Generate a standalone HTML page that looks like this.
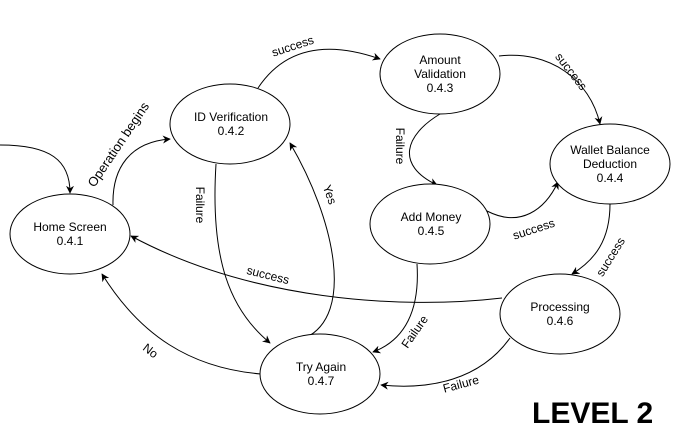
<!DOCTYPE html>
<html><head><meta charset="utf-8"><style>
html,body{margin:0;padding:0;background:#fff;}
svg{display:block;}
text{font-family:"Liberation Sans",sans-serif;font-size:12px;fill:#000;}
</style></head><body>
<svg width="696" height="432" viewBox="0 0 696 432" xmlns="http://www.w3.org/2000/svg">
<defs><marker id="a" viewBox="0 0 10 10" refX="9" refY="5" markerWidth="8" markerHeight="8" orient="auto" markerUnits="userSpaceOnUse"><path d="M0,0 L10,5 L0,10 L3,5 z" fill="#000"/></marker></defs>
<g fill="none" stroke="#000" stroke-width="1" marker-end="url(#a)">
<path d="M0,145 C50,145 70,160 70,193"/>
<path d="M113,205 C112,168 130,142 170,139"/>
<path d="M258,88 C290,40 340,45 380,59"/>
<path d="M499,56 C550,50 590,80 600,124"/>
<path d="M440,114 C405,135 395,165 437,185"/>
<path d="M487,211 C520,228 545,210 558,182"/>
<path d="M610,204 C610,240 595,260 572,274"/>
<path d="M502,298 C400,310 250,300 131,236"/>
<path d="M417,264 C420,310 405,340 373,352"/>
<path d="M510,338 C480,380 430,390 381,385"/>
<path d="M216,164 C210,260 230,310 270,343"/>
<path d="M305,338 C355,315 335,220 290,143"/>
<path d="M261,374 C190,368 140,335 102,274"/>
</g>
<g fill="#fff" stroke="#000">
<ellipse cx="70" cy="234" rx="60" ry="40"/>
<ellipse cx="230" cy="124" rx="60" ry="40"/>
<ellipse cx="440" cy="74" rx="60" ry="40"/>
<ellipse cx="610" cy="164" rx="60" ry="40"/>
<ellipse cx="430" cy="224" rx="60" ry="40"/>
<ellipse cx="560" cy="314" rx="60" ry="40"/>
<ellipse cx="320" cy="374" rx="60" ry="40"/>
</g>
<g text-anchor="middle">
<text x="70" y="231">Home Screen</text><text x="70" y="245">0.4.1</text>
<text x="231" y="121">ID Verification</text><text x="231" y="135">0.4.2</text>
<text x="440" y="64">Amount</text><text x="440" y="78">Validation</text><text x="440" y="92">0.4.3</text>
<text x="610" y="154">Wallet Balance</text><text x="610" y="168">Deduction</text><text x="610" y="182">0.4.4</text>
<text x="431" y="221">Add Money</text><text x="431" y="235">0.4.5</text>
<text x="560" y="311">Processing</text><text x="560" y="325">0.4.6</text>
<text x="321" y="371">Try Again</text><text x="321" y="385">0.4.7</text>
<text transform="translate(122,147) rotate(-56)" style="font-size:13px">Operation begins</text>
<text transform="translate(294,50) rotate(-18)">success</text>
<text transform="translate(568,74) rotate(52)">success</text>
<text transform="translate(396,146) rotate(90)">Failure</text>
<text transform="translate(535,233) rotate(-18)">success</text>
<text transform="translate(614,259) rotate(-58)">success</text>
<text transform="translate(267,279) rotate(14)">success</text>
<text transform="translate(418,334) rotate(-55)">Failure</text>
<text transform="translate(462,388) rotate(-15)">Failure</text>
<text transform="translate(196,205) rotate(90)">Failure</text>
<text transform="translate(326,196) rotate(70)">Yes</text>
<text transform="translate(148,354) rotate(38)">No</text>
</g>
<text x="532" y="423" style="font-size:30px;font-weight:bold">LEVEL 2</text>
</svg>
</body></html>
